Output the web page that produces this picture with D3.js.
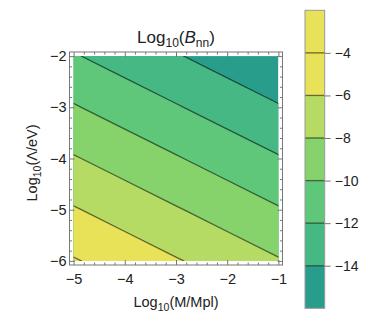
<!DOCTYPE html>
<html>
<head>
<meta charset="utf-8">
<script src="https://cdn.jsdelivr.net/npm/d3@7"></script>
<style>
  body { margin: 0; background: #fff; }
  text { font-family: "Liberation Sans", Arial, sans-serif; fill: #222; }
</style>
</head>
<body>
<div id="chart"></div>
<script>
// grid of Log10(B_nn), rows top (y=-2) to bottom (y=-6)
const xValues = [-5, -4, -3, -2, -1];
const yValues = [-2, -3, -4, -5, -6];
const logB = [
  [-11.85, -12.85, -13.85, -14.85, -15.85],
  [-9.85, -10.85, -11.85, -12.85, -13.85],
  [-7.85, -8.85, -9.85, -10.85, -11.85],
  [-5.85, -6.85, -7.85, -8.85, -9.85],
  [-3.85, -4.85, -5.85, -6.85, -7.85]
];
const fillLevels = [-14, -12, -10, -8, -6];
const lineLevels = [-14, -12, -10, -8, -6, -4];
const bandColors = ["#299d8b", "#45b883", "#5fc77a", "#87d36b", "#b6db64", "#e8e259"];
const xTicks = [-5, -4, -3, -2, -1];
const yTicks = [-6, -5, -4, -3, -2];
const barTicks = [-4, -6, -8, -10, -12, -14];
const barRange = [-16, -2];

const W = 370, H = 328;
const svg = d3.select("#chart").append("svg").attr("width", W).attr("height", H);

// frame and data area
const fx0 = 69.5, fx1 = 282.5, fy0 = 52, fy1 = 265;
const pad = 4.1;
const x = d3.scaleLinear().domain([-5, -1]).range([fx0 + pad, fx1 - pad]);
const y = d3.scaleLinear().domain([-6, -2]).range([fy1 - pad, fy0 + pad]);

const nx = xValues.length, ny = yValues.length;
const gx = d3.scaleLinear().domain([0.5, nx - 0.5]).range([x(xValues[0]), x(xValues[nx - 1])]);
const gy = d3.scaleLinear().domain([0.5, ny - 0.5]).range([y(yValues[0]), y(yValues[ny - 1])]);
const path = d3.geoPath(d3.geoTransform({
  point: function (px, py) { this.stream.point(gx(px), gy(py)); }
}));

svg.append("defs").append("clipPath").attr("id", "clip")
  .append("rect")
  .attr("x", x(-5)).attr("y", y(-2))
  .attr("width", x(-1) - x(-5)).attr("height", y(-6) - y(-2));

const flat = logB.flat();
const contours = d3.contours().size([nx, ny]);

const plot = svg.append("g").attr("clip-path", "url(#clip)");
plot.append("rect")
  .attr("x", x(-5)).attr("y", y(-2))
  .attr("width", x(-1) - x(-5)).attr("height", y(-6) - y(-2))
  .attr("fill", bandColors[0]);

plot.selectAll("path.band")
  .data(contours.thresholds(fillLevels)(flat))
  .enter().append("path")
  .attr("class", "band")
  .attr("d", path)
  .attr("fill", (d, i) => bandColors[i + 1]);

plot.selectAll("path.line")
  .data(contours.thresholds(lineLevels)(flat))
  .enter().append("path")
  .attr("class", "line")
  .attr("d", path)
  .attr("fill", "none")
  .attr("stroke", "#000")
  .attr("stroke-opacity", 0.55)
  .attr("stroke-width", 1.3);

// frame ticks
const frameColor = "#777";
function minorOf(domain) {
  const out = [];
  for (let v = domain[0]; v <= domain[1] + 1e-9; v += 0.2) out.push(+v.toFixed(1));
  return out.filter(v => Math.abs(v - Math.round(v)) > 1e-6);
}
const fmt = d => d3.format("d")(d).replace("-", "\u2212");

function frameAxis(axisFn, scale, ticks, minor, transform, labels, padding) {
  const g = svg.append("g").attr("transform", transform);
  g.call(axisFn(scale).tickValues(ticks).tickSize(-5).tickPadding(padding)
    .tickFormat(labels ? fmt : ""));
  g.append("g").call(axisFn(scale).tickValues(minor).tickSize(-2.5).tickFormat(""));
  g.selectAll(".domain").remove();
  g.selectAll("line").attr("stroke", frameColor);
  g.selectAll("text").style("font-size", "14.5px").attr("fill", "#222")
    .style("font-family", "'Liberation Sans', Arial, sans-serif");
  return g;
}
frameAxis(d3.axisBottom, x, xTicks, minorOf([-5, -1]), `translate(0,${fy1})`, true, 9);
frameAxis(d3.axisTop, x, xTicks, minorOf([-5, -1]), `translate(0,${fy0})`, false, 3);
frameAxis(d3.axisLeft, y, yTicks, minorOf([-6, -2]), `translate(${fx0},0)`, true, 3);
frameAxis(d3.axisRight, y, yTicks, minorOf([-6, -2]), `translate(${fx1},0)`, false, 3);

svg.append("rect")
  .attr("x", fx0).attr("y", fy0)
  .attr("width", fx1 - fx0).attr("height", fy1 - fy0)
  .attr("fill", "none").attr("stroke", frameColor).attr("stroke-width", 1);

// title
const title = svg.append("text").attr("x", 176).attr("y", 42.5)
  .attr("text-anchor", "middle").style("font-size", "17px");
title.append("tspan").text("Log");
title.append("tspan").text("10").attr("dy", 4).style("font-size", "12px");
title.append("tspan").text("(").attr("dy", -4);
title.append("tspan").text("B").style("font-style", "italic");
title.append("tspan").text("nn").attr("dy", 4).style("font-size", "12px");
title.append("tspan").text(")").attr("dy", -4);

// axis labels
const xl = svg.append("text").attr("x", 176).attr("y", 307)
  .attr("text-anchor", "middle").style("font-size", "14.5px");
xl.append("tspan").text("Log");
xl.append("tspan").text("10").attr("dy", 4).style("font-size", "10.5px");
xl.append("tspan").text("(M/Mpl)").attr("dy", -4);

const yl = svg.append("text")
  .attr("transform", "translate(37,163) rotate(-90)")
  .attr("text-anchor", "middle").style("font-size", "14.5px");
yl.append("tspan").text("Log");
yl.append("tspan").text("10").attr("dy", 4).style("font-size", "10.5px");
yl.append("tspan").text("(\u039B/eV)").attr("dy", -4);

// colour bar
const bx0 = 305, bx1 = 324.7;
const bScale = d3.scaleLinear().domain(barRange).range([308.3, 10.3]);
const bandEdges = [barRange[0]].concat(fillLevels, [barRange[1]]);
const bar = svg.append("g");
bar.selectAll("rect.band")
  .data(d3.pairs(bandEdges))
  .enter().append("rect")
  .attr("class", "band")
  .attr("x", bx0).attr("width", bx1 - bx0)
  .attr("y", d => bScale(d[1])).attr("height", d => bScale(d[0]) - bScale(d[1]))
  .attr("fill", (d, i) => bandColors[i]);
bar.selectAll("line.sep")
  .data(barTicks)
  .enter().append("line")
  .attr("x1", bx0).attr("x2", bx1)
  .attr("y1", d => bScale(d)).attr("y2", d => bScale(d))
  .attr("stroke", "#000").attr("stroke-opacity", 0.55).attr("stroke-width", 1.3);
bar.append("rect")
  .attr("x", bx0).attr("y", bScale(barRange[1]))
  .attr("width", bx1 - bx0).attr("height", bScale(barRange[0]) - bScale(barRange[1]))
  .attr("fill", "none").attr("stroke", "#999").attr("stroke-width", 1);

const barAxis = svg.append("g").attr("transform", `translate(${bx1},0)`)
  .call(d3.axisRight(bScale).tickValues(barTicks).tickSize(6).tickPadding(4).tickFormat(fmt));
barAxis.select(".domain").remove();
barAxis.selectAll("line").attr("stroke", frameColor);
barAxis.selectAll("text").style("font-size", "14px").attr("fill", "#222")
  .style("font-family", "'Liberation Sans', Arial, sans-serif");
</script>
</body>
</html>
